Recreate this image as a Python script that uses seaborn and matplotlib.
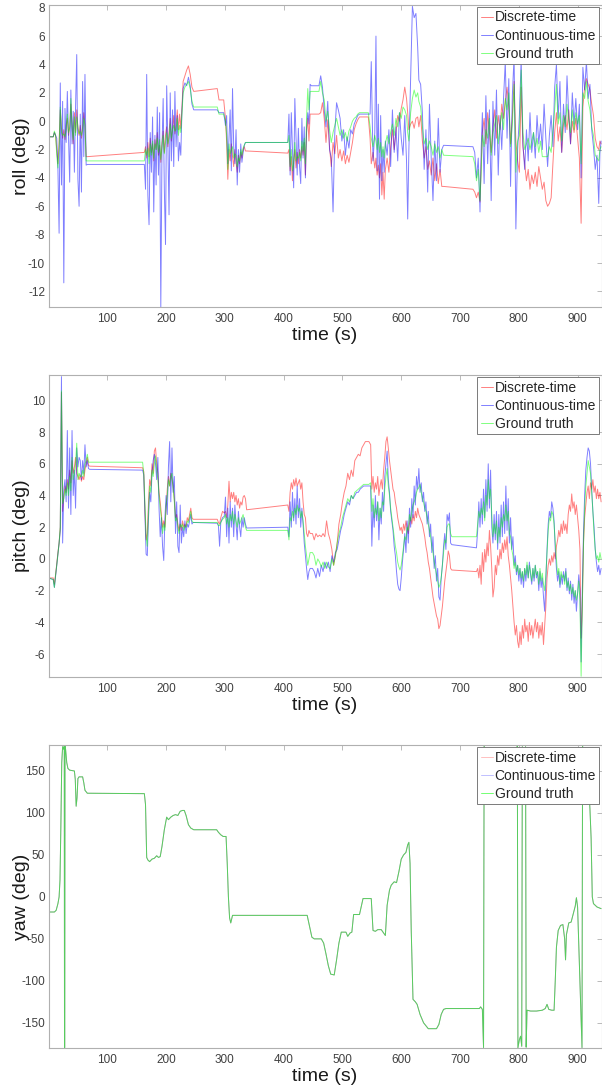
import matplotlib
matplotlib.use("Agg")
import matplotlib.pyplot as plt
import seaborn as sns

# ---------------- roll ----------------
roll_time = [0, 8, 10, 12,
             14, 16, 18, 20, 22, 24, 26, 28, 30, 32, 34, 36, 38, 40, 42, 44, 46, 48, 50, 52, 54, 56, 58, 60, 62, 64,
             66, 163,
             165, 167, 169, 171, 173, 175, 177, 179, 181, 183, 185, 187, 189, 191, 193, 195, 197, 199, 201, 203,
             205, 207, 209, 211, 213, 215, 217, 219, 221, 223, 225, 227,
             229, 232, 235, 238, 241, 244, 247,
             287, 290, 298,
             301, 303, 305, 307, 309, 311, 313, 315, 317, 319, 321, 323, 325, 327, 329, 331, 333, 335,
             337, 407,
             409, 411, 413, 415, 417, 419, 421, 423, 425, 427, 429, 431, 433, 435, 437, 439, 441, 443, 445,
             447, 460, 463,
             466, 469, 472, 475, 478, 481, 484, 487, 490, 493, 496, 499, 502, 505, 508, 511, 514, 517, 520, 523,
             526, 529, 532, 535, 538, 541, 544, 547,
             549, 552, 555, 557, 559, 561, 563, 565, 567, 569, 571, 573,
             576, 579, 582, 585, 588, 591, 594, 597, 600, 603, 606, 609,
             611, 613, 616, 619, 622, 625, 628, 630, 633, 636, 639, 642, 645, 648, 651, 654, 657, 660, 663, 666,
             669, 672,
             722,
             725, 728, 731, 734, 736, 738,
             741, 744, 747, 750, 753, 756, 759, 762, 765, 768, 771, 774, 777, 780, 783, 786, 789, 792, 795, 798,
             801, 804, 807, 810, 813, 816, 819, 822, 825, 828, 831, 834, 837, 840, 843, 846, 849, 852, 855, 858,
             861, 864, 867, 870, 873, 876, 879, 882, 885, 888, 891, 894, 897, 900, 903, 906, 909, 912, 915, 918,
             921, 924, 927, 930, 933, 936, 938, 940]

roll_discrete = [-1.1, -1.1, -0.8, -1.0,
                 -2.0, -3.0, -1.5, 0.8, -0.5, -1.2, -0.6, -1.3, -0.3, 0.2, -1.0, -0.4, 1.2, -0.2, -1.6, 0.6,
                 -0.8, 0.8, -0.5, -1.0, -0.3, -1.2, -0.4, 0.6, -0.2, -2.5,
                 -2.5, -2.2,
                 -1.8, -2.6, -1.5, -2.5, -1.2, -2.2, -1.6, -2.8, -1.3, -2.0, -0.8, -2.4, -1.7, -2.9, -1.5, -0.7,
                 -2.2, -1.0, -0.4, -1.8, -0.8, 0.2, -1.4, -0.5, 0.4, -0.9, -0.3, 0.8, -0.6, 0.5, -0.5, 1.0,
                 2.8, 3.2, 3.6, 3.9, 3.3, 2.4, 2.1,
                 2.3, 1.5, 1.5,
                 0.2, -1.5, -4.1, -2.0, -2.8, -1.6, -2.5, -3.2, -2.0, -2.9, -3.6, -2.4, -3.0, -2.2, -2.6, -2.0,
                 -1.8, -2.1,
                 -2.1, -2.25,
                 -2.0, -3.5, -2.5, -4.2, -2.8, -2.0, -3.3, -2.2, -3.0, -2.0, -2.6, -1.8, -2.4, -1.5, -3.8, -0.8,
                 0.2, -1.4, 0.5,
                 0.5, 0.5, 0.6,
                 1.3, 0.2, -1.5, 0.1, -1.8, -3.2, -1.5, -2.3, -1.0, -2.6, -2.0, -2.8, -2.1, -3.0, -2.4, -2.9,
                 -2.2, -1.5, -0.6, -0.2, 0.1, 0.3, 0.3, 0.3, 0.3, 0.3, 0.3, -1.2,
                 -3.0, -2.2, -3.3, -2.6, -3.8, -3.1, -4.0, -3.0, -5.2, -3.6, -5.5, -3.4,
                 -2.6, -3.6, -1.8, -0.6, -2.0, -0.8, 0.4, 0.0, 0.9, 1.5, 2.4, 1.6,
                 0.6, -0.6, -0.2, 0.0, -0.5, 0.2, 0.3, -0.4, 0.4, -1.4, -2.6, -1.8, -3.4, -2.8, -3.8, -2.6,
                 -4.2, -3.0, -4.4, -3.4, -4.6, -4.6,
                 -4.8,
                 -5.0, -5.4, -5.0, -5.7, -3.0, -0.8,
                 0.2, -1.6, 0.6, -0.8, -2.2, -0.4, 0.8, -1.2, 0.4, -0.6, 1.2, 0.2, 1.4, 2.4, 1.0, -1.6,
                 0.4, 2.8, -1.4, -2.8, -3.6, 2.4, -1.8, -3.0, -4.2, -3.4, -4.8, -3.8, -4.4, -3.6, -4.6, -3.2,
                 -4.0, -4.8, -4.3, -5.6, -6.0, -5.8, -5.4, -3.0, -0.8, 0.6, -1.4, -0.4, -2.2, -0.2, 0.4, -0.6,
                 0.8, -1.6, 0.0, -0.8, 0.2, -1.2, -2.6, -7.2, 1.0, 2.4, 3.0, 2.6, 2.2, 1.2, 0.4, -1.2,
                 -1.8, -2.0, -1.4, -1.6]

roll_continuous = [-1.1, -1.1, -0.8, -1.0,
                   -1.2, -3.4, -7.9, 2.7, -4.5, 1.4, -11.4, 0.9, -1.5, 2.1, -1.0, -4.3, 2.2, -1.6, 0.7, -3.6,
                   1.0, 4.7, -4.1, -6.0, 0.5, -5.0, 2.8, -2.5, 3.3, -3.1,
                   -3.05, -3.05,
                   -4.8, 3.3, -5.2, -7.3, -0.8, -3.6, 0.3, -6.4, -1.0, -4.5, 1.0, -3.8, 0.6, -13.1, -2.0, 1.6,
                   -4.8, -8.7, 2.5, -1.5, -6.6, 2.0, -2.8, 0.8, -3.2, 2.1, -1.8, 0.4, -2.8, -1.5, -2.4, 0.8,
                   2.3, 2.7, 2.5, 3.1, 2.5, 1.2, 0.8,
                   0.8, 0.6, 0.6,
                   -0.3, 0.4, -3.0, -1.2, 0.8, -3.5, 2.3, -1.8, -3.0, -0.6, -4.5, -2.0, -3.6, -1.6, -2.9, -2.2,
                   -1.7, -1.5,
                   -1.5, -1.5,
                   0.5, -3.8, 0.6, -2.0, -4.7, 1.6, -1.0, -3.8, -0.5, -3.2, -4.4, 0.2, -2.6, -0.4, -4.0, -0.4,
                   0.6, -0.2, 2.6,
                   2.5, 2.5, 3.2,
                   2.4, 0.8, -0.4, 1.4, -2.0, -2.6, -6.4, -0.8, 1.3, 0.8, 0.2, -1.4, -0.6, -2.4, -1.1, -1.9,
                   -0.6, -0.9, -0.2, 0.1, 0.4, 0.5, 0.5, 0.5, 0.5, 0.5, 0.5, 0.5,
                   4.2, -2.8, -0.8, 6.0, -3.5, 1.2, -5.5, 0.4, -4.2, -2.0, -3.6, -1.4,
                   -2.4, -0.6, -3.2, 0.8, -2.2, -0.4, -2.8, 0.6, -1.2, -2.4, 0.4, -2.8,
                   -6.9, -2.0, 3.0, 8.1, 7.3, 7.6, 5.2, 2.9, 2.6, 0.6, -3.4, -0.6, -5.0, 1.2, -2.6, -5.6,
                   -1.4, -4.2, 0.2, -3.6, -2.0, -1.7,
                   -1.8,
                   -2.2, -4.0, -2.6, -6.4, -2.0, 0.6,
                   -4.4, 1.8, -3.0, 0.8, -5.6, 1.4, -2.4, 2.2, -3.8, 0.4, -2.0, 1.6, 4.2, -1.2, 3.0, -4.6,
                   1.8, 4.6, -7.6, -2.0, 0.4, 4.4, -1.6, -3.4, -0.6, -2.8, 0.6, -2.2, -0.8, -2.6, 0.4, -1.6,
                   -0.2, -2.0, 1.2, -1.2, -3.2, -1.0, 0.4, -1.8, 2.4, 4.0, 0.2, 2.8, -2.2, 1.2, -0.8, 3.2,
                   0.4, -1.6, 2.0, -0.2, 1.6, -0.6, 1.2, -4.0, 3.8, 2.2, 4.2, 1.6, 2.6, -0.6, -1.8, -3.4,
                   -2.4, -5.8, -2.2, -1.4]

roll_truth = [-1.1, -1.1, -0.7, -1.0,
              -2.4, -3.3, -1.8, 1.0, -0.8, -1.0, -0.9, -1.1, -0.6, 0.5, -0.8, -0.5, 1.6, -0.5, -1.3, 0.3,
              -1.0, 0.3, -0.4, -0.9, -0.7, -1.0, -0.6, 0.2, -0.3, -2.8,
              -2.8, -2.8,
              -2.0, -2.4, -1.9, -3.0, -1.6, -2.4, -1.4, -2.6, -1.6, -2.0, -1.2, -2.2, -1.3, -2.7, -1.8, -1.0,
              -2.3, -1.5, -0.8, -1.6, -1.2, -0.2, -1.2, -0.6, -0.3, -0.7, -0.6, 0.2, -1.0, -0.3, -0.8, 0.5,
              2.0, 2.4, 2.6, 2.8, 2.3, 1.4, 1.0,
              1.0, 0.5, 0.5,
              0.0, -1.0, -3.4, -1.6, -2.3, -2.0, -1.8, -2.6, -2.3, -2.4, -3.2, -2.6, -2.8, -2.0, -2.4, -1.9,
              -1.7, -1.5,
              -1.5, -1.5,
              -1.0, -3.2, -2.0, -3.5, -3.0, -1.5, -2.8, -2.5, -2.6, -2.2, -2.8, -1.4, -2.1, -1.2, -3.0, 0.3,
              2.3, 0.8, 2.1,
              2.1, 2.1, 2.8,
              2.0, 1.5, 0.0, 0.7, -0.6, -1.5, -0.8, -0.3, 0.2, -0.4, -1.0, -0.6, -1.2, -0.8, -1.4, -0.7,
              -0.4, 0.0, 0.2, 0.3, 0.5, 0.6, 0.6, 0.6, 0.6, 0.6, 0.6, -0.4,
              -1.2, -1.8, -1.0, -1.4, -2.0, -1.2, -2.2, -1.5, -2.5, -1.8, -2.6, -1.6,
              -1.0, -1.6, -0.8, -0.2, -1.0, 0.2, -0.4, 0.6, 0.2, 1.0, 0.8, 0.4,
              -0.8, -1.4, 0.6, 1.6, 2.2, 1.7, 2.0, 1.4, 1.0, -0.4, -1.6, -1.2, -2.0, -1.4, -1.8, -2.4,
              -1.6, -2.2, -1.8, -2.6, -2.0, -2.4,
              -2.5,
              -3.0, -4.2, -3.4, -5.6, -3.6, -1.0,
              -1.8, -0.6, -1.2, 0.2, -2.4, -0.8, -0.2, 0.4, -1.6, -0.4, 0.6, -0.6, 1.6, 0.8, 2.0, -1.8,
              -0.2, 2.6, -3.6, -1.4, -1.0, 3.6, -0.8, -2.0, -1.6, -1.2, -2.0, -1.4, -0.8, -1.8, -1.2, -2.2,
              -1.4, -2.5, -2.5, -2.5, -2.5, -1.8, -2.2, -0.6, 0.8, 2.6, -0.2, 0.6, -1.4, 0.4, -0.4, 1.2,
              0.0, -0.8, 0.8, -0.6, 0.6, -0.2, 0.4, -3.0, 2.0, 1.6, 2.8, 1.4, 0.8, -0.4, -1.0, -2.4,
              -2.6, -2.8, -2.0, -1.8]

# ---------------- pitch ----------------
pitch_time = [0, 8, 10, 12, 14, 16, 18, 20, 22, 24, 26, 28, 30, 32, 34, 36, 38, 40, 42, 44, 46, 48, 50, 52,
              54, 56, 58, 60, 62, 64, 66, 68, 70,
              160, 162, 164, 166, 168, 170, 172, 174, 176, 178, 180, 182, 184, 186, 188, 190, 192, 194, 196, 198,
              200, 202, 204, 206, 208, 210, 212, 214, 216, 218, 220, 222, 224, 226, 228, 230, 232, 234, 236, 238,
              240, 242, 244, 246,
              287, 289, 291, 293, 296, 299,
              301, 303, 305, 307, 309, 311, 313, 315, 317, 319, 321, 323, 325, 327, 329, 331, 333, 335,
              337, 407,
              409, 411, 413, 415, 417, 419, 421, 423, 425, 427, 429, 431, 433, 435, 437, 439, 441, 443, 445,
              449, 452, 455, 458, 461, 464, 467, 470, 473, 476, 479, 482, 485, 488, 491, 494, 497, 500, 503, 506,
              509, 512, 515, 518, 521, 524, 527, 530, 533, 536, 539,
              545, 548,
              550, 552, 554, 556, 558, 560, 562, 564, 566, 568, 570, 572, 574, 576, 578, 580, 582, 584, 586, 588,
              590, 592, 594, 596, 598, 600, 602, 604, 606, 608, 610, 612, 614, 616, 618, 620, 622, 624, 626, 628,
              630, 632, 634, 636, 638, 640, 642, 644, 646, 648, 650, 652, 654, 656, 658, 660, 662, 664, 666, 668,
              670, 672, 674, 676, 678, 680, 682, 684, 686,
              728, 730, 732, 734, 736, 738, 740, 742, 744, 746, 748, 750, 752, 754, 756, 758, 760, 762, 764, 766,
              768, 770, 772, 774, 776, 778, 780, 782, 784, 786, 788, 790, 792, 794, 796, 798, 800, 802, 804, 806,
              808, 810, 812, 814, 816, 818, 820, 822, 824, 826, 828, 830, 832, 834, 836, 838, 840, 842, 844, 846,
              848, 850, 852, 854, 856, 858, 860, 862, 864, 866, 868, 870, 872, 874, 876, 878, 880, 882, 884, 886,
              888, 890, 892, 894, 896, 898, 900, 902, 904, 906, 908, 910, 912, 914, 916, 918, 920, 922, 924, 926,
              928, 930, 932, 934, 936, 938, 940]

pitch_discrete = [-1.2, -1.2, -1.6, -1.0, -0.3, 0.4, 1.0, 2.0, 10.5, 3.0, 4.0, 4.6, 4.2, 5.0, 4.4, 5.6, 4.8,
                  6.2, 5.4, 5.8, 6.4, 5.4, 5.2, 5.0, 5.3, 4.9, 5.2, 5.0, 5.6, 6.0, 6.4, 5.9, 5.85,
                  5.75, 5.5, 3.0, 1.2, 1.6, 3.5, 5.0, 4.6, 6.0, 5.4, 6.8, 7.0, 6.0, 5.4, 4.2, 3.6, 2.8, 2.0,
                  2.4, 2.0, 3.2, 4.4, 5.2, 4.6, 5.4, 5.0, 4.6, 3.8, 2.6, 2.8, 2.2, 1.8, 2.2, 1.8, 2.4, 2.0,
                  2.2, 2.0, 2.6, 2.4, 2.8, 3.2, 2.6, 2.5,
                  2.5, 2.3, 2.2, 2.6, 3.0, 2.9,
                  3.0, 2.6, 3.4, 4.9, 3.6, 4.2, 3.8, 4.2, 3.6, 4.0, 3.4, 3.8, 3.2, 3.6, 3.4, 3.9, 4.0, 3.8,
                  3.1, 3.4,
                  3.0, 4.2, 4.8, 4.4, 5.0, 4.6, 5.1, 4.6, 4.8, 5.0, 4.4, 4.8, 3.6, 2.8, 2.6, 1.6, 1.4, 1.8, 1.6,
                  1.6, 1.2, 1.6, 1.4, 1.5, 1.4, 1.6, 1.4, 2.4, 1.6, 1.2, 0.6, -0.4, 0.2, 1.0, 2.2, 2.8, 3.6,
                  4.2, 4.6, 5.4, 5.0, 5.6, 5.2, 6.2, 6.4, 6.6, 6.5, 7.0, 7.2, 7.4,
                  7.4, 7.2,
                  4.4, 5.2, 4.2, 4.8, 4.4, 5.2, 4.0, 4.6, 5.0, 4.4, 5.6, 6.4, 7.4, 7.7, 7.0, 6.2, 5.6, 5.0,
                  4.4, 4.2, 3.6, 3.2, 2.6, 2.2, 1.8, 2.0, 1.6, 2.2, 1.8, 2.4, 2.0, 1.6, 2.2, 2.6, 2.2, 2.8,
                  2.4, 3.0, 2.6, 3.2, 2.8, 2.6, 2.4, 2.2, 1.8, 1.4, 0.8, 0.4, -0.2, -0.6, -1.2, -1.8, -2.4,
                  -2.8, -3.2, -3.6, -3.8, -4.4, -4.2, -3.6, -3.0, -2.2, -1.4, -0.8, -0.2, 0.5, 0.2, -0.6, -0.7,
                  -0.8, -0.6, -1.2, -0.4, -1.6, 0.4, -0.8, 0.6, -0.2, 1.0,
                  0.2, 1.8, 0.8, -0.6, -2.4, -1.8, -0.4, -1.0, 0.2, -0.4,
                  0.6, 0.0, 1.0, 0.4, 1.2, 0.6, 1.4, 0.2, -0.4, -1.2,
                  -2.0, -3.0, -4.0, -4.8, -4.2, -5.2, -5.6, -4.6, -5.4, -4.2,
                  -5.0, -3.8, -4.6, -4.2, -5.2, -4.0, -4.8, -4.2, -5.0, -4.4,
                  -3.8, -4.6, -4.0, -5.0, -4.2, -4.8, -4.0, -5.4, -4.2, -3.0,
                  -1.2, -0.4, 0.0, -0.4, 0.2, -0.2, 0.4, 0.0, 0.8, 1.2,
                  1.8, 1.4, 2.2, 1.6, 2.4, 1.8, 2.2, 1.6, 2.8, 3.4,
                  3.0, 4.1, 3.2, 3.6, 2.8, 3.4, 2.6, 1.8, 0.6, -5.0,
                  -3.0, 1.0, 2.6, 3.4, 4.2, 4.6, 3.8, 4.8, 4.4, 5.0,
                  4.2, 4.6, 3.8, 4.4, 3.8, 4.2, 3.6]

pitch_continuous = [-1.2, -1.3, -1.8, -1.1, -0.4, 0.3, 1.0, 1.8, 11.5, 1.0, 4.4, 5.0, 3.6, 8.1, 3.2, 7.0, 2.8,
                    8.1, 4.0, 5.6, 3.2, 7.0, 5.8, 6.4, 6.2, 5.0, 6.2, 5.4, 7.2, 5.8, 6.2, 5.7, 5.65,
                    5.6, 5.3, 2.8, 0.3, 0.2, 2.5, 4.2, 3.6, 5.4, 6.2, 6.6, 6.0, 5.0, 6.4, 3.2, 1.4, 2.6, 0.8,
                    -0.1, 2.6, 4.0, 2.8, 5.8, 7.4, 3.6, 7.0, 4.2, 5.2, 1.6, 3.6, 0.8, 0.4, 3.4, 1.0, 2.0, 1.4,
                    2.4, 1.6, 2.2, 2.0, 2.4, 2.8, 2.2, 2.3,
                    2.25, 2.1, 0.8, 2.3, 2.6, 2.7,
                    3.9, 1.4, 3.2, 1.0, 3.6, 2.0, 3.2, 1.4, 3.4, 2.2, 1.2, 3.0, 2.0, 1.4, 2.6, 2.0, 2.6, 2.2,
                    1.95, 2.0,
                    1.4, 3.6, 2.0, 4.2, 2.4, 3.8, 2.2, 4.6, 2.6, 3.8, 2.0, 3.2, 2.2, 1.0, 0.2, -0.6, -1.3, -0.8,
                    -0.6,
                    -0.6, -0.8, -1.2, -0.6, -1.1, -0.4, -0.8, -0.2, -0.6, -0.2, -0.8, 0.2, -0.2, 0.4, 0.6, 1.2,
                    1.8, 2.2, 2.8, 3.2, 3.6, 3.4, 4.0, 3.8, 4.0, 4.2, 4.2, 4.4, 4.5, 4.6, 4.6,
                    4.6, 4.6,
                    0.8, 3.4, 2.0, 4.0, 2.4, 3.6, 1.2, 3.2, 2.2, 4.2, 3.0, 5.2, 6.0, 6.8, 5.0, 4.2, 3.0, 2.4,
                    1.8, 0.8, 0.2, -0.8, -1.6, -1.9, -2.0, -1.2, -0.2, 0.6, 1.6, 0.4, 2.4, 1.0, 3.2, 2.0, 3.8,
                    2.6, 4.6, 3.4, 5.2, 4.4, 5.7, 4.2, 4.8, 3.6, 4.2, 3.0, 3.6, 2.2, 3.0, 1.4, 2.2, 0.4, 1.4,
                    -0.6, 0.2, -1.4, -0.6, -2.4, -2.6, -1.2, -0.4, 0.8, 1.6, 0.6, 2.8, 2.4, 2.9, 1.0, 0.9,
                    0.7, 1.8, 3.6, 2.0, 3.8, 2.2, 4.4, 2.6, 5.0, 3.0,
                    6.0, 3.2, 5.6, 2.0, 1.0, 2.8, 1.2, 3.0, 0.6, 2.8,
                    1.0, 3.4, 1.4, 3.6, 1.6, 4.6, 1.8, 3.8, 1.0, 2.6,
                    0.6, 1.4, -0.4, 0.2, -1.0, -0.4, -1.4, -0.6, -1.6, -0.8,
                    -1.8, -0.6, -1.4, -0.4, -1.2, -0.2, -1.0, -1.6, -0.6, -1.4,
                    -0.4, -1.2, -0.8, -2.0, -0.8, -1.8, -1.2, -2.4, -3.3, -1.4,
                    0.6, 2.2, 3.0, 2.6, 3.6, 3.2, 2.4, 0.6, -0.6, -1.4,
                    -0.8, -1.8, -1.0, -1.6, -0.8, -1.4, -0.6, -2.0, -1.2, -2.2,
                    -1.4, -2.6, -1.6, -2.8, -2.0, -3.3, -2.2, -1.0, -2.0, -6.5,
                    -2.0, 1.6, 4.0, 5.6, 6.4, 7.0, 6.8, 6.0, 4.4, 3.0,
                    2.0, 0.6, -0.2, -0.8, -0.4, -1.0, -0.6]

pitch_truth = [-1.2, -1.3, -1.8, -1.0, -0.4, 0.3, 1.0, 2.0, 10.6, 3.5, 3.8, 4.4, 4.0, 4.8, 4.0, 5.2, 4.3,
               6.4, 5.0, 5.4, 6.0, 7.3, 5.0, 5.4, 5.2, 5.2, 5.6, 5.2, 6.0, 6.2, 6.6, 6.1, 6.1,
               6.1, 5.4, 3.5, 1.4, 0.8, 3.0, 4.6, 4.2, 5.6, 5.2, 6.0, 6.5, 5.6, 5.0, 4.0, 3.2, 2.6, 1.6,
               2.2, 1.8, 3.4, 4.0, 5.0, 4.6, 5.2, 5.4, 4.4, 3.6, 2.4, 2.6, 2.0, 1.6, 2.2, 2.0, 2.2, 1.8,
               2.1, 2.0, 2.4, 2.3, 2.6, 3.0, 2.4, 2.3,
               2.3, 2.1, 2.1, 2.3, 2.5, 2.6,
               2.8, 2.2, 2.6, 2.0, 2.8, 2.4, 3.0, 2.2, 2.8, 2.4, 2.0, 2.6, 2.2, 2.4, 2.6, 2.8, 2.4, 2.0,
               1.8, 1.8,
               1.2, 2.6, 2.4, 3.0, 2.6, 3.2, 2.8, 3.4, 3.0, 3.2, 2.6, 3.0, 2.4, 1.6, 0.8, 0.2, -0.4, 0.0, 0.4,
               0.4, 0.2, -0.4, 0.0, -0.2, -0.5, -0.2, -0.6, -0.2, -0.5, -0.6, 0.0, -0.4, 0.2, 1.0, 1.6,
               2.0, 2.6, 3.0, 3.4, 3.8, 3.6, 4.0, 3.8, 4.2, 4.3, 4.4, 4.5, 4.6, 4.7, 4.7,
               4.7, 4.8,
               3.0, 3.8, 2.6, 3.2, 2.8, 3.6, 2.4, 3.2, 2.6, 3.6, 3.4, 4.4, 5.2, 5.7, 4.6, 4.0, 3.2, 2.6,
               2.0, 1.4, 0.8, 0.4, -0.2, -0.5, -0.7, -0.4, 0.2, 0.8, 1.4, 1.2, 2.0, 1.8, 2.8, 2.4, 3.0,
               3.4, 3.6, 3.8, 4.2, 4.4, 4.5, 4.7, 4.2, 3.8, 3.6, 3.2, 3.0, 2.6, 2.2, 1.8, 1.4, 0.8, 0.4,
               -0.2, -0.6, -1.0, -1.4, -1.8, -1.6, -1.2, -0.4, 0.4, 1.2, 1.0, 2.0, 2.2, 2.2, 1.6, 1.4,
               1.4, 2.2, 3.0, 2.6, 3.2, 2.8, 3.6, 2.4, 4.0, 3.4,
               5.0, 3.8, 4.4, 2.8, 1.4, 2.2, 1.6, 2.4, 1.0, 2.0,
               1.4, 2.6, 2.0, 2.8, 2.4, 3.4, 2.4, 3.0, 1.6, 1.4,
               0.6, 0.2, -0.6, -0.2, -0.8, -0.4, -1.0, -0.6, -1.2, -0.8,
               -1.4, -0.6, -1.0, -0.2, -1.2, -0.4, -0.8, -1.4, -0.6, -1.2,
               -0.4, -1.0, -0.8, -1.6, -0.6, -1.4, -0.9, -1.6, -2.0, -1.0,
               0.4, 1.8, 2.6, 2.4, 3.0, 2.8, 2.2, 1.0, 0.0, -1.0,
               -0.6, -1.6, -0.8, -1.2, -1.0, -1.6, -0.8, -1.8, -1.4, -2.0,
               -1.6, -2.2, -1.8, -2.4, -2.0, -2.6, -2.2, -1.4, -2.6, -7.4,
               -3.0, 0.8, 3.2, 4.6, 5.4, 6.2, 5.8, 5.4, 4.2, 3.0,
               1.6, 0.6, 0.0, 0.2, -0.2, 0.4, 0.0]

# ---------------- yaw ----------------
yaw_time = [0, 10, 13, 16, 18, 19.5, 21, 22.5, 24, 25.5, 26.8, 27.2, 27.6, 28.0, 29, 31, 33, 36, 44, 45.5,
            47, 48.5, 50, 52, 58, 60, 62, 66, 163, 165, 167, 169, 172, 176, 180, 184, 187, 190, 193, 197,
            201, 204, 208, 212, 216, 220, 224, 228, 231, 234, 238, 242, 247, 286, 289, 293, 297, 302, 304, 306,
            308, 310, 313, 440, 444, 448, 452, 464, 468, 472, 476, 480, 486, 490, 494, 498, 506, 509, 513, 516,
            519, 529, 533, 535, 549, 552, 556, 560, 566, 570, 573, 576, 580, 583, 588, 592, 596, 600, 604, 608,
            611, 613, 615, 617, 620, 624, 627, 632, 638, 646, 660, 664, 668, 672, 676, 733, 735, 738, 740, 741,
            745, 760, 780, 796, 797.5, 798.5, 801, 803, 805, 806, 809, 811.5, 812.5, 814, 820, 830, 840, 845,
            848, 851, 856, 860, 862, 864, 867, 871, 875, 878, 879.5, 881, 885, 889, 892, 896, 898, 900, 903,
            906, 907.5, 908.5, 912, 918, 921, 923, 925, 927, 933, 940]

yaw_truth = [-18, -18, -16, -8, 0, 20, 84, 160, 179, 176, 179.5, -179.8, -179.5, 179.6, 176, 160, 153, 151,
             150, 140, 108, 118, 141, 143, 143, 136, 127, 123.5, 123, 110, 47, 44, 42, 45, 46, 49, 47, 48, 60,
             80, 95, 92, 95, 97, 98, 97, 102, 103, 103, 97, 86, 82, 80, 80, 77, 74, 72, 72, 40, 0, -25, -31,
             -22, -22, -35, -48, -50, -50, -55, -68, -82, -92, -93, -75, -55, -42, -42, -47, -43, -42, -21,
             -21, -8, -2, -2, -40, -41, -39, -39, -43, -46, -10, 8, 14, 18, 17, 30, 45, 50, 53, 62, 65, 40,
             -40, -122, -125, -128, -140, -150, -157, -157, -152, -140, -134, -133, -133, -131, -134, -179.5,
             179.5, 172, 165, 168, 175, 179.8, -179.8, -170, -166, -178, 179, 165, 179, -179, -135, -136, -136,
             -135, -133, -128, -134, -135, -135, -100, -60, -40, -34, -33, -50, -75, -45, -31, -30, -22, -11,
             -1, -12, -80, -150, -179.5, 179.5, 165, 140, 105, 70, 0, -8, -12, -14]
# the two estimates lie on top of the ground truth at this scale
yaw_discrete = list(yaw_truth)
yaw_continuous = list(yaw_truth)

time_ticks = [100, 200, 300, 400, 500, 600, 700, 800, 900]
roll_ticks = [-12, -10, -8, -6, -4, -2, 0, 2, 4, 6, 8]
pitch_ticks = [-6, -4, -2, 0, 2, 4, 6, 8, 10]
yaw_ticks = [-150, -100, -50, 0, 50, 100, 150]

labels = ["Discrete-time", "Continuous-time", "Ground truth"]
colors = ["#ff0000", "#0000ff", "#00ff00"]

sns.set_theme(style="white")
plt.rcParams["font.family"] = ["Liberation Sans", "DejaVu Sans"]
plt.rcParams["axes.unicode_minus"] = False


def draw_panel(ax, t, series, ylabel, ylim, yticks, alphas=(0.5, 0.5, 0.5)):
    for vals, col, lab, a in zip(series, colors, labels, alphas):
        sns.lineplot(x=t, y=vals, ax=ax, color=col, linewidth=0.7, alpha=a,
                     label=lab, estimator=None, sort=False)
    ax.set_xlim(0, 940.7)
    ax.set_ylim(*ylim)
    ax.set_xticks(time_ticks)
    ax.set_yticks(yticks)
    ax.set_xlabel("time (s)", fontsize=14, labelpad=1, color="#1a1a1a")
    ax.set_ylabel(ylabel, fontsize=14, color="#1a1a1a")
    ax.yaxis.set_label_coords(-0.034, 0.5)
    ax.tick_params(axis="both", direction="in", length=3.5, width=0.6, color="#b0b0b0",
                   top=True, right=True, labelsize=8.5, labelcolor="#404040")
    ax.tick_params(axis="x", pad=4.5)
    ax.tick_params(axis="y", pad=2.5)
    for sp in ax.spines.values():
        sp.set_color("#b0b0b0")
        sp.set_linewidth(0.8)
    leg = ax.legend(loc="upper right", fontsize=10, frameon=True, fancybox=False, framealpha=1,
                    edgecolor="#7a7a7a", borderaxespad=0.15, borderpad=0.25, labelspacing=0.3,
                    handlelength=0.9, handletextpad=0.1)
    leg.get_frame().set_linewidth(0.7)


fig = plt.figure(figsize=(6.02, 10.92), dpi=100)
ax_roll = fig.add_axes([0.0806, 0.7189, 0.9186, 0.2766])
ax_pitch = fig.add_axes([0.0806, 0.3800, 0.9186, 0.2766])
ax_yaw = fig.add_axes([0.0806, 0.0403, 0.9186, 0.2775])

draw_panel(ax_roll, roll_time, [roll_discrete, roll_continuous, roll_truth],
           "roll (deg)", (-13.1, 8.2), roll_ticks)
draw_panel(ax_pitch, pitch_time, [pitch_discrete, pitch_continuous, pitch_truth],
           "pitch (deg)", (-7.45, 11.6), pitch_ticks)
draw_panel(ax_yaw, yaw_time, [yaw_discrete, yaw_continuous, yaw_truth],
           "yaw (deg)", (-180, 181), yaw_ticks, alphas=(0.25, 0.25, 0.55))

fig.savefig("out.png", dpi=100)
plt.close(fig)
